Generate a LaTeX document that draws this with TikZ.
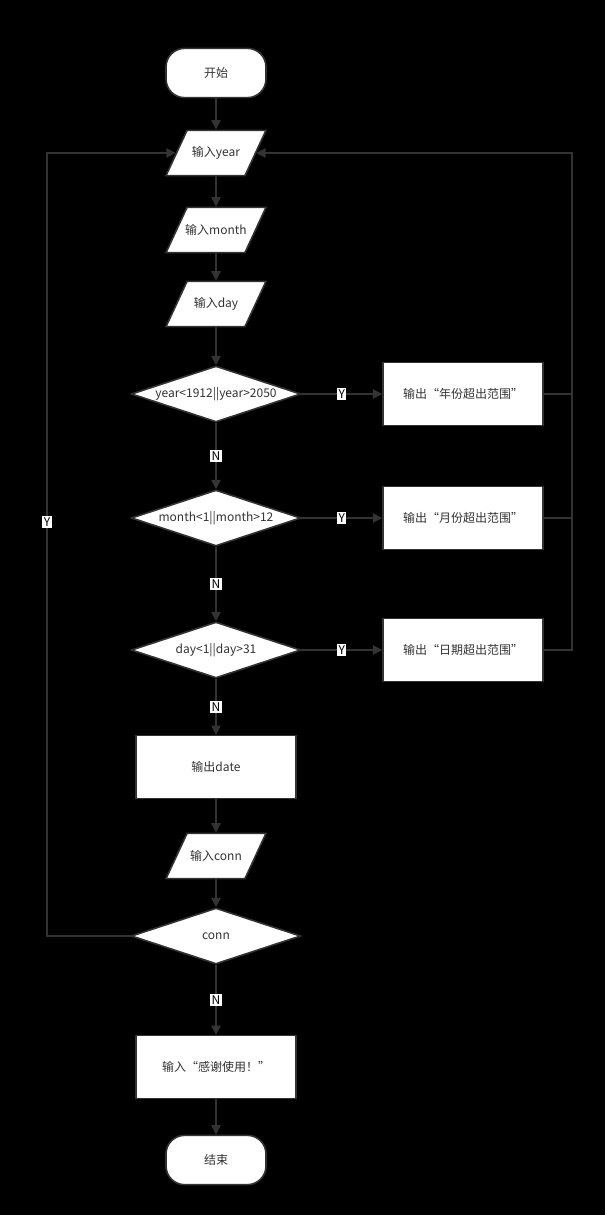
\documentclass[tikz,border=0pt]{standalone}
\usepackage{fontspec}
\setmainfont{Noto Sans CJK SC}
\usetikzlibrary{shapes.geometric,arrows.meta}
\definecolor{ln}{HTML}{333333}
\tikzset{
  base/.style={draw=ln, line width=1.2pt, fill=white, text=ln, font=\fontsize{9}{11}\selectfont},
  lbl/.style={label={[text=ln, font=\fontsize{9}{11}\selectfont]center:#1}},
  term/.style={base, rounded corners=14pt, minimum width=75pt, minimum height=37pt},
  io/.style={base, trapezium, trapezium left angle=70, trapezium right angle=110, trapezium stretches=true, minimum width=75pt, minimum height=34pt, inner sep=1pt, lbl=#1},
  proc/.style={base, minimum width=120pt, minimum height=47pt},
  cond/.style={base, diamond, minimum width=127pt, minimum height=42pt, inner sep=1pt, lbl=#1},
  flow/.style={draw=ln, line width=1.2pt, -{Triangle[length=7pt,width=7pt]}},
  yn/.style={fill=white, text=black, inner sep=1pt, font=\fontsize{9}{10}\selectfont}
}
\begin{document}
\begin{tikzpicture}[x=0.75pt,y=-0.75pt]
\fill[black] (0,0) rectangle (605,1215);
\useasboundingbox (0,0) rectangle (605,1215);
% main column
\node[term] (start) at (216,73) {开始};
\node[io=输入year] (year) at (216,153) {};
\node[io=输入month] (month) at (216,230) {};
\node[io=输入day] (day) at (216,304) {};
\node[cond={year<1912||year>2050}] (cy) at (216,394) {};
\node[cond={month<1||month>12}] (cm) at (216,518) {};
\node[cond={day<1||day>31}] (cd) at (216,650) {};
\node[proc] (date) at (216,767) {输出date};
\node[io=输入conn] (conn) at (216,856) {};
\node[cond={conn=-1}] (cc) at (216,936) {};
\node[proc] (thx) at (216,1067) {输入“感谢使用！”};
\node[term] (stop) at (216,1160) {结束};
% error boxes
\node[proc] (ey) at (463,394) {输出“年份超出范围”};
\node[proc] (em) at (463,518) {输出“月份超出范围”};
\node[proc] (ed) at (463,650) {输出“日期超出范围”};
% connectors
\draw[flow] (start) -- (year);
\draw[flow] (year) -- (month);
\draw[flow] (month) -- (day);
\draw[flow] (day) -- (cy);
\draw[flow] (cy) -- node[yn]{N} (cm);
\draw[flow] (cm) -- node[yn]{N} (cd);
\draw[flow] (cd) -- node[yn]{N} (date);
\draw[flow] (date) -- (conn);
\draw[flow] (conn) -- (cc);
\draw[flow] (cc) -- node[yn]{N} (thx);
\draw[flow] (thx) -- (stop);
\draw[flow] (cy) -- node[yn,pos=0.5]{Y} (ey);
\draw[flow] (cm) -- node[yn,pos=0.5]{Y} (em);
\draw[flow] (cd) -- node[yn,pos=0.5]{Y} (ed);
\coordinate (rt) at (572,153);
\draw[flow] (ey.east) -| (rt) -- (year.east);
\draw[draw=ln, line width=1.2pt] (em.east) -- (em.east -| rt);
\draw[draw=ln, line width=1.2pt] (ed.east) -| (rt);
\coordinate (lt) at (47,936);
\draw[flow] (cc.west) -- (lt) -- node[yn,pos=0.529]{Y} (47,153) -- (year.west);
\end{tikzpicture}
\end{document}
